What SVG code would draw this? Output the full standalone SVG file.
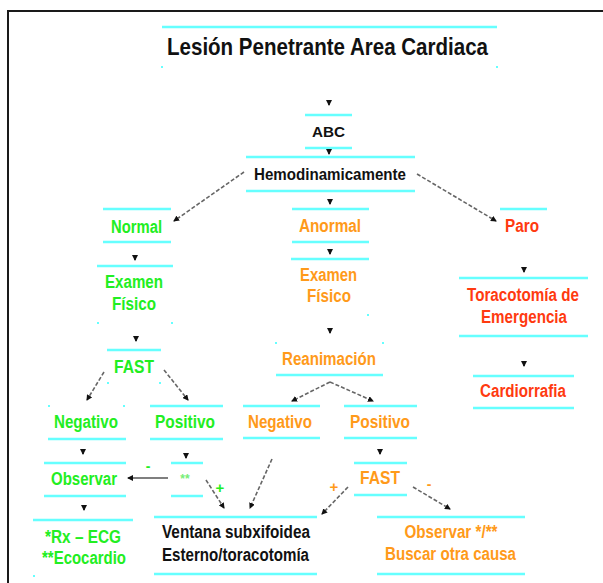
<svg xmlns="http://www.w3.org/2000/svg" width="603" height="583" viewBox="0 0 603 583">
<style>
.ln{stroke:#66ffff;stroke-width:2.5;fill:none}
.dot{fill:#66ffff}
text{font-family:"Liberation Sans",Arial,sans-serif;font-weight:bold;text-anchor:middle}
.g{fill:#22ee22;font-size:18px}
.o{fill:#ff9a1a;font-size:18px}
.r{fill:#ff3a10;font-size:18px}
.k{fill:#111;font-size:18px}
.dash{stroke:#666;stroke-width:1.6;stroke-dasharray:4 2;fill:none;marker-end:url(#arr)}
.solid{stroke:#555;stroke-width:1.6;fill:none;marker-end:url(#arr)}
.stub{stroke:#111;stroke-width:1.5;fill:none;marker-end:url(#arr)}
</style>
<defs>
<marker id="arr" viewBox="0 0 6 6" refX="5" refY="3" markerWidth="6" markerHeight="6" markerUnits="userSpaceOnUse" orient="auto"><path d="M0,0 L6,3 L0,6 z" fill="#111"/></marker>
</defs>
<rect x="0" y="0" width="603" height="583" fill="#fff"/>
<rect x="8" y="11" width="650" height="650" fill="none" stroke="#1a1a1a" stroke-width="2"/>

<g id="title">
<line class="ln" x1="162" y1="27" x2="497" y2="27"/>
<rect class="dot" x="161" y="66" width="2" height="2"/><rect class="dot" x="496" y="66" width="2" height="2"/>
<text x="327.5" y="55" style="font-size:24px;fill:#111" textLength="321" lengthAdjust="spacingAndGlyphs">Lesión Penetrante Area Cardiaca</text>
</g>
<g id="abc">
<line class="ln" x1="305" y1="115" x2="352" y2="115"/><line class="ln" x1="305" y1="148" x2="352" y2="148"/>
<text x="328.5" y="137" style="font-size:15px;fill:#111" textLength="33" lengthAdjust="spacingAndGlyphs">ABC</text>
</g>
<g id="hemo">
<line class="ln" x1="246" y1="157" x2="415" y2="157"/><line class="ln" x1="246" y1="191" x2="415" y2="191"/>
<text x="330" y="180" style="font-size:16.5px;fill:#111" textLength="152" lengthAdjust="spacingAndGlyphs">Hemodinamicamente</text>
</g>
<g id="normal">
<line class="ln" x1="103" y1="209" x2="171" y2="209"/><line class="ln" x1="103" y1="242" x2="171" y2="242"/>
<text class="g" x="136.5" y="233" textLength="51" lengthAdjust="spacingAndGlyphs">Normal</text>
</g>
<g id="examen-g">
<line class="ln" x1="97" y1="266" x2="173" y2="266"/>
<rect class="dot" x="97" y="322" width="2" height="2"/><rect class="dot" x="171" y="322" width="2" height="2"/>
<text class="g" x="134" y="288" textLength="58" lengthAdjust="spacingAndGlyphs">Examen</text>
<text class="g" x="134" y="310" textLength="44" lengthAdjust="spacingAndGlyphs">Físico</text>
</g>
<g id="fast-g">
<line class="ln" x1="107" y1="350" x2="161" y2="350"/>
<rect class="dot" x="107" y="382" width="2" height="2"/><rect class="dot" x="159" y="382" width="2" height="2"/>
<text class="g" x="134" y="373" textLength="40" lengthAdjust="spacingAndGlyphs">FAST</text>
</g>
<g id="neg-g">
<rect class="dot" x="48" y="405" width="2" height="2"/><rect class="dot" x="123" y="405" width="2" height="2"/>
<line class="ln" x1="48" y1="439" x2="126" y2="439"/>
<text class="g" x="86" y="428" textLength="64" lengthAdjust="spacingAndGlyphs">Negativo</text>
</g>
<g id="pos-g">
<line class="ln" x1="150" y1="406" x2="223" y2="406"/><line class="ln" x1="150" y1="439" x2="223" y2="439"/>
<text class="g" x="185" y="428" textLength="60" lengthAdjust="spacingAndGlyphs">Positivo</text>
</g>
<g id="observar-g">
<line class="ln" x1="44" y1="463" x2="126" y2="463"/><line class="ln" x1="44" y1="496" x2="126" y2="496"/>
<text class="g" x="84" y="485" textLength="66" lengthAdjust="spacingAndGlyphs">Observar</text>
</g>
<g id="rx">
<line class="ln" x1="33" y1="520" x2="133" y2="520"/>
<rect class="dot" x="33" y="575" width="2" height="2"/>
<text class="g" x="83" y="543" textLength="76" lengthAdjust="spacingAndGlyphs">*Rx – ECG</text>
<text class="g" x="84" y="564" textLength="84" lengthAdjust="spacingAndGlyphs">**Ecocardio</text>
</g>
<g id="stars">
<line class="ln" x1="171" y1="463" x2="203" y2="463"/><line class="ln" x1="171" y1="496" x2="203" y2="496"/>
<text x="185" y="483" style="font-size:12px;fill:#77ee77">**</text>
</g>
<g id="ventana">
<line class="ln" x1="154" y1="517" x2="317" y2="517"/><line class="ln" x1="154" y1="574" x2="317" y2="574"/>
<text class="k" x="236" y="538" textLength="148" lengthAdjust="spacingAndGlyphs">Ventana subxifoidea</text>
<text class="k" x="235.5" y="561" textLength="147" lengthAdjust="spacingAndGlyphs">Esterno/toracotomía</text>
</g>
<g id="anormal">
<line class="ln" x1="292" y1="209" x2="369" y2="209"/><line class="ln" x1="292" y1="242" x2="369" y2="242"/>
<text class="o" x="330" y="232" textLength="62" lengthAdjust="spacingAndGlyphs">Anormal</text>
</g>
<g id="examen-o">
<line class="ln" x1="291" y1="259" x2="369" y2="259"/>
<rect class="dot" x="367" y="314" width="2" height="2"/>
<text class="o" x="328.5" y="281" textLength="57" lengthAdjust="spacingAndGlyphs">Examen</text>
<text class="o" x="329" y="302" textLength="44" lengthAdjust="spacingAndGlyphs">Físico</text>
</g>
<g id="reanimacion">
<rect class="dot" x="275" y="342" width="2" height="2"/><rect class="dot" x="382" y="342" width="2" height="2"/>
<line class="ln" x1="276" y1="375" x2="383" y2="375"/>
<text class="o" x="329" y="365" textLength="94" lengthAdjust="spacingAndGlyphs">Reanimación</text>
</g>
<g id="neg-o">
<line class="ln" x1="243" y1="406" x2="320" y2="406"/><line class="ln" x1="243" y1="438" x2="320" y2="438"/>
<text class="o" x="280" y="428" textLength="64" lengthAdjust="spacingAndGlyphs">Negativo</text>
</g>
<g id="pos-o">
<line class="ln" x1="344" y1="406" x2="417" y2="406"/><line class="ln" x1="344" y1="438" x2="417" y2="438"/>
<text class="o" x="380" y="428" textLength="60" lengthAdjust="spacingAndGlyphs">Positivo</text>
</g>
<g id="fast-o">
<line class="ln" x1="354" y1="463" x2="407" y2="463"/><line class="ln" x1="354" y1="495" x2="407" y2="495"/>
<text class="o" x="380" y="484" textLength="40" lengthAdjust="spacingAndGlyphs">FAST</text>
</g>
<g id="observar-o">
<line class="ln" x1="377" y1="517" x2="525" y2="517"/><line class="ln" x1="377" y1="574" x2="525" y2="574"/>
<text class="o" x="451" y="538" textLength="93" lengthAdjust="spacingAndGlyphs">Observar */**</text>
<text class="o" x="450.5" y="560" textLength="131" lengthAdjust="spacingAndGlyphs">Buscar otra causa</text>
</g>
<g id="paro">
<line class="ln" x1="500" y1="209" x2="547" y2="209"/>
<text class="r" x="522" y="232" textLength="34" lengthAdjust="spacingAndGlyphs">Paro</text>
</g>
<g id="toracotomia">
<line class="ln" x1="459" y1="278" x2="588" y2="278"/><line class="ln" x1="459" y1="336" x2="588" y2="336"/>
<text class="r" x="523" y="301" textLength="112" lengthAdjust="spacingAndGlyphs">Toracotomía de</text>
<text class="r" x="524" y="323" textLength="86" lengthAdjust="spacingAndGlyphs">Emergencia</text>
</g>
<g id="cardiorrafia">
<line class="ln" x1="473" y1="376" x2="574" y2="376"/><line class="ln" x1="473" y1="408" x2="574" y2="408"/>
<text class="r" x="523" y="397" textLength="86" lengthAdjust="spacingAndGlyphs">Cardiorrafia</text>
</g>

<g id="connectors">
<line class="stub" x1="329" y1="100" x2="329" y2="105"/>
<line class="stub" x1="329" y1="149" x2="329" y2="154"/>
<line class="stub" x1="330" y1="199" x2="330" y2="204"/>
<line class="stub" x1="135" y1="255" x2="135" y2="260"/>
<line class="stub" x1="136" y1="336" x2="136" y2="341"/>
<line class="stub" x1="83" y1="449" x2="83" y2="454"/>
<line class="stub" x1="84" y1="505" x2="84" y2="510"/>
<line class="stub" x1="186" y1="453" x2="186" y2="458"/>
<line class="stub" x1="330" y1="249" x2="330" y2="254"/>
<line class="stub" x1="330" y1="328" x2="330" y2="333"/>
<line class="stub" x1="380" y1="449" x2="380" y2="454"/>
<line class="stub" x1="524" y1="267" x2="524" y2="272"/>
<line class="stub" x1="524" y1="361" x2="524" y2="366"/>
<path class="dash" d="M244,172 L174,221"/>
<path class="dash" d="M417,174 L496,221"/>
<path class="dash" d="M104,372 L87,400"/>
<path class="dash" d="M164,370 L188,400"/>
<path class="dash" d="M330,382 L292,401"/>
<path class="dash" d="M330,382 L373,401"/>
<path class="solid" d="M168,478 L128,478"/>
<path class="dash" d="M206,480 L224,508"/>
<path class="dash" d="M272,459 L250,508"/>
<path class="dash" d="M348,487 L322,514"/>
<path class="dash" d="M413,487 L450,509"/>
<text x="148" y="471" style="font-size:14px;fill:#22ee22">-</text>
<text x="220" y="493" style="font-size:15px;fill:#22ee22">+</text>
<text x="334" y="492" style="font-size:15px;fill:#ff9a1a">+</text>
<text x="429" y="489" style="font-size:14px;fill:#ff9a1a">-</text>
</g>
</svg>
